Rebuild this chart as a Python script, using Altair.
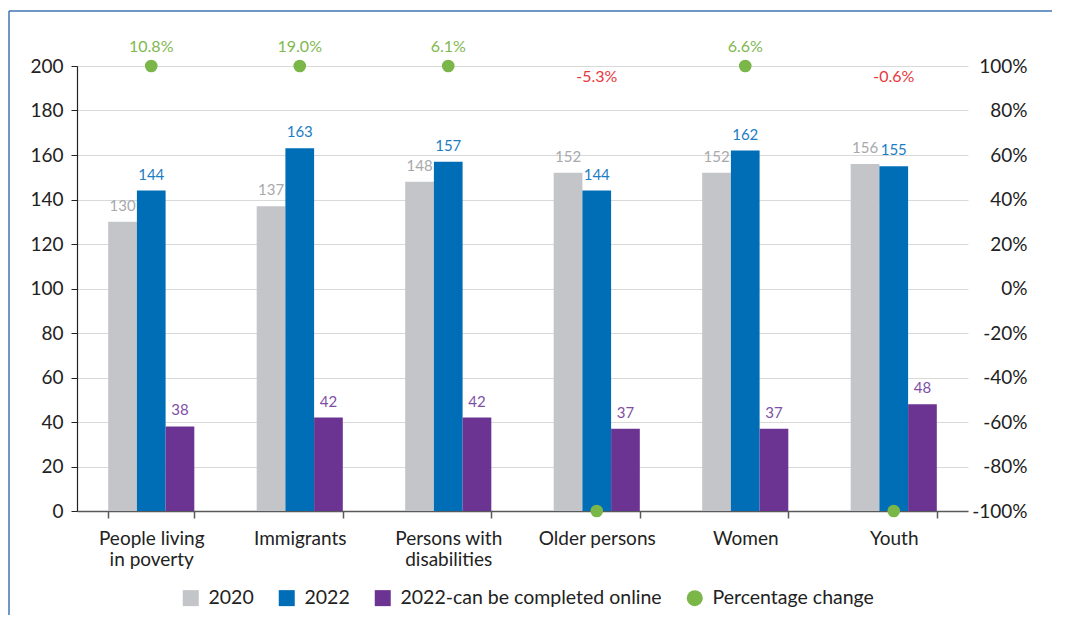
import altair as alt
import pandas as pd

categories = ["People living in poverty", "Immigrants", "Persons with disabilities",
              "Older persons", "Women", "Youth"]
series_names = ["2020", "2022", "2022-can be completed online"]
vals_2020 = [130, 137, 148, 152, 152, 156]
vals_2022 = [144, 163, 157, 144, 162, 155]
vals_online = [38, 42, 42, 37, 37, 48]
pct_change = [10.8, 19.0, 6.1, -5.3, 6.6, -0.6]
legend_names = series_names + ["Percentage change"]
legend_shapes = ["square", "square", "square", "circle"]
legend_sizes = [256, 256, 256, 140]
bar_colors = ["#C3C5C8", "#006EB6", "#6B3493", "#7AB648"]
label_colors = ["#A7A9AC", "#1B7DC3", "#7E4FA5"]
pct_colors = ["#7FB850", "#E8383D"]
left_ticks = list(range(0, 201, 20))
right_ticks = list(range(-100, 101, 20))

rows = []
for s, vals in zip(series_names, [vals_2020, vals_2022, vals_online]):
    for c, v in zip(categories, vals):
        rows.append({"category": c, "series": s, "value": v})
bars_df = pd.DataFrame(rows)
pct_df = pd.DataFrame({"category": categories, "pct": pct_change})
legend_df = pd.DataFrame({"series": legend_names})
frame_df = pd.DataFrame({"k": [0]})

W, H = 891, 445
FONT = "Lato"
TXT = "#222222"
AX_FS = 19

label_expr = ("datum.label == 'People living in poverty' ? ['People living', 'in poverty'] : "
              "datum.label == 'Persons with disabilities' ? ['Persons with', 'disabilities'] : datum.label")

x_enc = alt.X("category:N", sort=categories,
              scale=alt.Scale(paddingInner=0.42, paddingOuter=0.21),
              axis=alt.Axis(title=None, labelAngle=0, tickBand="extent", tickSize=7,
                            domainColor="#595959", tickColor="#595959", domainWidth=1.5,
                            tickWidth=1.5, labelPadding=11, labelFontSize=AX_FS,
                            labelLineHeight=21, labelColor=TXT, labelExpr=label_expr,
                            grid=False))
xoff_enc = alt.XOffset("series:N", sort=series_names,
                       scale=alt.Scale(domain=series_names, paddingInner=0, paddingOuter=0))
y_left = alt.Y("value:Q", scale=alt.Scale(domain=[0, 200], nice=False),
               axis=alt.Axis(title=None, values=left_ticks, tickSize=6, tickColor="#222",
                             domainColor="#222", domainWidth=1.2, labelPadding=8,
                             labelFontSize=AX_FS, labelColor=TXT, grid=True,
                             gridColor="#D9D9D9", gridWidth=1.2))
y_right = alt.Y("plot_pos:Q", scale=alt.Scale(domain=[-100, 100], nice=False),
                axis=alt.Axis(title=None, orient="right", values=right_ticks, domain=False,
                              ticks=False, tickSize=0, labelAlign="right", labelPadding=59,
                              labelFontSize=AX_FS, labelColor=TXT, grid=False,
                              labelExpr="datum.value + '%'"))

color_scale = alt.Scale(domain=legend_names, range=bar_colors)
legend = alt.Legend(
    title=None, orient="none", legendX=104, legendY=522, direction="horizontal",
    columns=4, symbolStrokeWidth=0, symbolOpacity=1, labelLimit=500,
    labelFontSize=19.5, labelFont=FONT, labelColor=TXT, labelOffset=8, columnPadding=23)

base = alt.Chart(bars_df)
bars = base.mark_bar().encode(
    x=x_enc, xOffset=xoff_enc, y=y_left,
    color=alt.Color("series:N", scale=color_scale, legend=legend))

texts = []
for s, col in zip(series_names, label_colors):
    texts.append(base.transform_filter(alt.datum.series == s).mark_text(
        color=col, dy=-11, fontSize=15, font=FONT, baseline="alphabetic").encode(
        x=x_enc, xOffset=xoff_enc, y=y_left, text="value:Q"))

legend_layer = alt.Chart(legend_df).transform_filter("false").mark_point(
    filled=True, opacity=1).encode(
    x=alt.value(0), y=alt.value(0),
    color=alt.Color("series:N", scale=color_scale, legend=legend),
    shape=alt.Shape("series:N", scale=alt.Scale(domain=legend_names, range=legend_shapes),
                    legend=legend),
    size=alt.Size("series:N", scale=alt.Scale(domain=legend_names, range=legend_sizes),
                  legend=legend))

top_line = alt.Chart(frame_df).mark_rule(color="#3F74B4", strokeWidth=1.5).encode(
    x=alt.value(-68), x2=alt.value(995), y=alt.value(-55))
left_line = alt.Chart(frame_df).mark_rule(color="#3F74B4", strokeWidth=1.5).encode(
    x=alt.value(-68), y=alt.value(-55), y2=alt.value(560))

left = alt.layer(bars, *texts, legend_layer, top_line, left_line)

pbase = alt.Chart(pct_df).transform_calculate(
    lbl="(datum.pct < 0 ? '-' : '') + format(abs(datum.pct), '.1f') + '%'")
points = pbase.transform_calculate(plot_pos="datum.pct >= 0 ? 100 : -100").mark_circle(
    size=160, color="#7AB648", opacity=1).encode(x=x_enc, y=y_right)
pos_text = pbase.transform_calculate(plot_pos="100").transform_filter(
    alt.datum.pct >= 0).mark_text(
    color=pct_colors[0], dy=-14, fontSize=16, font=FONT, baseline="alphabetic").encode(
    x=x_enc, y=y_right, text="lbl:N")
neg_text = pbase.transform_calculate(plot_pos="100").transform_filter(
    alt.datum.pct < 0).mark_text(
    color=pct_colors[1], dy=16, fontSize=16, font=FONT, baseline="alphabetic").encode(
    x=x_enc, y=y_right, text="lbl:N")

right = alt.layer(points, pos_text, neg_text)

chart = alt.layer(left, right).resolve_scale(y="independent").properties(
    width=W, height=H, autosize=alt.AutoSizeParams(type="none"),
    padding={"left": 69, "top": 58, "right": 84, "bottom": 104}
).configure(font=FONT).configure_view(stroke=None)

chart.save("out.html", embed_options={"renderer": "svg", "actions": False})
